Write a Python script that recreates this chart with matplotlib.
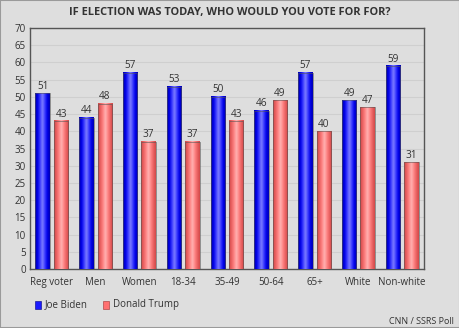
import matplotlib

matplotlib.use("Agg")
import matplotlib.pyplot as plt
import numpy as np
from matplotlib.colors import LinearSegmentedColormap
from matplotlib.patches import Rectangle

plt.rcParams["font.family"] = ["Open Sans", "DejaVu Sans"]

# data
groups = ["Reg voter", "Men", "Women", "18-34", "35-49", "50-64", "65+", "White", "Non-white"]
biden = [51, 44, 57, 53, 50, 46, 57, 49, 59]
trump = [43, 48, 37, 37, 43, 49, 40, 47, 31]
y_ticks = list(range(0, 75, 5))

BG = "#dedede"
TEXT = "#333333"
BLUE_GRAD = ["#0000b0", "#0000e8", "#3a3aff", "#8080ff", "#3a3aff", "#0000e8", "#0000b0"]
RED_GRAD = ["#d04848", "#ea6262", "#ff8484", "#ffb4b4", "#ff8484", "#ea6262", "#d04848"]


def gradient_bar(ax, x0, width, height, colors):
    cmap = LinearSegmentedColormap.from_list("g", colors)
    grad = np.linspace(0, 1, 64).reshape(1, -1)
    ax.imshow(grad, extent=[x0, x0 + width, 0, height], aspect="auto", cmap=cmap,
              origin="lower", zorder=3, interpolation="bicubic")
    ax.add_patch(Rectangle((x0, 0), width, height, fill=False, edgecolor="#555555",
                           linewidth=0.4, zorder=4))


fig = plt.figure(figsize=(4.6, 3.28), dpi=100, facecolor=BG)
ax = fig.add_axes([0.0652, 0.1799, 0.8565, 0.7347])
ax.set_facecolor(BG)

x = np.arange(len(groups))
w = 0.33
off = 0.21
for i in range(len(groups)):
    gradient_bar(ax, x[i] - off - w / 2, w, biden[i], BLUE_GRAD)
    gradient_bar(ax, x[i] + off - w / 2, w, trump[i], RED_GRAD)
    ax.text(x[i] - off, biden[i] + 0.4, str(biden[i]), ha="center", va="bottom",
            fontsize=7.2, color=TEXT, zorder=5)
    ax.text(x[i] + off, trump[i] + 0.4, str(trump[i]), ha="center", va="bottom",
            fontsize=7.2, color=TEXT, zorder=5)

ax.set_xlim(-0.5, len(groups) - 0.5)
ax.set_ylim(0, 70)
ax.set_yticks(y_ticks)
ax.set_xticks(x, labels=groups)
ax.tick_params(axis="both", length=0, labelsize=7, colors=TEXT, pad=3)
ax.tick_params(axis="x", pad=6)
ax.grid(True, axis="y", color="#cfcfcf", linewidth=0.8, zorder=0)
ax.set_axisbelow(True)
for name, sp in ax.spines.items():
    sp.set_color("#555555")
    sp.set_linewidth(1.0)

fig.text(0.5, 0.962, "IF ELECTION WAS TODAY, WHO WOULD YOU VOTE FOR FOR?", ha="center",
         va="center", fontsize=7.9, fontweight="bold", color=TEXT)

# legend
fig.patches.append(Rectangle((35 / 460, 1 - 309 / 328), 6 / 460, 8 / 328, transform=fig.transFigure,
                             facecolor="#1a1aff", edgecolor="#000080", linewidth=0.4))
fig.text(45 / 460, 1 - 305 / 328, "Joe Biden", ha="left", va="center", fontsize=7, color=TEXT)
fig.patches.append(Rectangle((103 / 460, 1 - 309 / 328), 6 / 460, 8 / 328, transform=fig.transFigure,
                             facecolor="#ff7070", edgecolor="#a03030", linewidth=0.4))
fig.text(113 / 460, 1 - 305 / 328, "Donald Trump", ha="left", va="center", fontsize=7, color=TEXT)

fig.text(454 / 460, 1 - 322 / 328, "CNN / SSRS Poll", ha="right", va="center", fontsize=6.5,
         color=TEXT)

fig.patches.append(Rectangle((0, 0), 1, 1, transform=fig.transFigure, fill=False,
                             edgecolor="#9a9a9a", linewidth=1.5))

fig.savefig("out.png", dpi=100, facecolor=BG)
